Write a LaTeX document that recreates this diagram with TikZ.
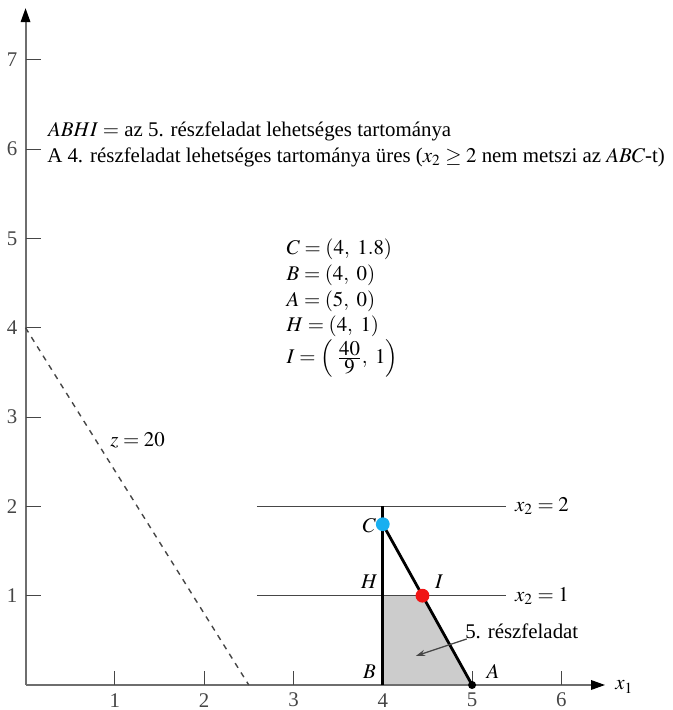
\documentclass[tikz,border=0pt]{standalone}
\usepackage{mathptmx}
\usepackage{fontspec}
\setmainfont{Liberation Serif}
\usetikzlibrary{arrows.meta}
\definecolor{tengelyszin}{RGB}{110,110,110}
\definecolor{vonalszin}{RGB}{70,70,70}
\definecolor{ckek}{RGB}{25,175,240}
\definecolor{ipiros}{RGB}{240,20,20}
\begin{document}
\begin{tikzpicture}[x=2cm,y=2cm,font=\fontsize{13.3}{16}\selectfont,
    tengely/.style={draw=tengelyszin, line width=1.3pt,
      -{Triangle[length=9pt,width=6pt,color=black]}},
    osztas/.style={draw=vonalszin, line width=0.7pt},
    vonal/.style={draw=vonalszin, line width=0.9pt},
    vastag/.style={draw=black, line width=1.8pt},
    pont/.style={circle, inner sep=0pt, minimum size=0.31cm},
    cimke/.style={anchor=base, inner sep=0pt},
    szoveg/.style={anchor=base west, inner sep=0pt}]
    \useasboundingbox (-0.286,-0.28) rectangle (7.24,7.67);

    % Pontok
    \coordinate (O) at (0,0);
    \coordinate (B) at (4,0);
    \coordinate (A) at (5,0);
    \coordinate (H) at (4,1);
    \coordinate (I) at (40/9,1);
    \coordinate (C) at (4,1.8);
    \coordinate (D) at (4,2);

    % Az 5. részfeladat tartománya (szürke)
    \fill[gray!40] (B) -- (H) -- (I) -- (A) -- cycle;

    % Tengelyek
    \coordinate (xveg) at (6.49,0);
    \coordinate (yveg) at (0,7.58);
    \draw[tengely] (O) -- (xveg);
    \draw[tengely] (O) -- (yveg);
    \node[szoveg] (x1) at (6.60,-0.056) {$x_1$};

    \foreach \i in {1,...,7} {
        \draw[osztas] (0,\i) -- ++(0.17,0);
        \node (ylab\i) at (-0.15,\i) {\textcolor{vonalszin}{\i}};
    }
    \foreach \i in {1,...,6} {
        \draw[osztas] (\i,0) -- ++(0,0.16);
        \node (xlab\i) at (\i,-0.17) {\textcolor{vonalszin}{\i}};
    }

    % z = 20 (szaggatott)
    \coordinate (z1) at (0,4);
    \coordinate (z2) at (2.5,0);
    \draw[vonalszin, line width=0.9pt, dash pattern=on 3.5pt off 3.5pt] (z1) -- (z2);
    \node[szoveg] (zlab) at (0.946,2.665) {$z = 20$};

    % x_2 = 2 és x_2 = 1
    \coordinate (k2a) at (2.59,2);
    \coordinate (k2b) at (5.38,2);
    \coordinate (k1a) at (2.59,1);
    \coordinate (k1b) at (5.38,1);
    \draw[vonal] (k2a) -- (k2b) node[right, xshift=2pt] (x2ket) {$x_2 = 2$};
    \draw[vonal] (k1a) -- (k1b) node[right, xshift=2pt] (x2egy) {$x_2 = 1$};

    % Vastag vonalak
    \draw[vastag] (B) -- (D);
    \draw[vastag] (C) -- (A);

    % Pöttyök
    \node[pont, fill=ckek] (Cp) at (C) {};
    \node[pont, fill=ipiros] (Ip) at (I) {};
    \node[pont, fill=black, minimum size=0.18cm] (Ap) at (A) {};

    % Betűk
    \node[cimke] (Cl) at (3.85,1.71) {$C$};
    \node[cimke] (Hl) at (3.85,1.075) {$H$};
    \node[cimke] (Il) at (4.63,1.075) {$I$};
    \node[cimke] (Bl) at (3.85,0.078) {$B$};
    \node[cimke] (Al) at (5.235,0.078) {$A$};

    % 5. részfeladat nyíllal
    \node[szoveg] (resz5) at (4.92,0.526) {5. részfeladat};
    \coordinate (nyilkezd) at (4.94,0.515);
    \coordinate (nyilveg) at (4.37,0.325);
    \draw[vonalszin, line width=0.8pt, -{Stealth[length=6pt,width=4pt]}] (nyilkezd) -- (nyilveg);

    % Felső szöveg
    \node[szoveg] (sor1) at (0.25,6.14) {$ABHI =$ az 5. részfeladat lehetséges tartománya};
    \node[szoveg] (sor2) at (0.24,5.85) {A 4. részfeladat lehetséges tartománya üres ($x_2 \geq 2$ nem metszi az $ABC$-t)};

    % Koordináták
    \node[szoveg] (Cegy) at (2.92,4.825) {$C = (4,\ 1.8)$};
    \node[szoveg] (Begy) at (2.92,4.525) {$B = (4,\ 0)$};
    \node[szoveg] (Aegy) at (2.92,4.24) {$A = (5,\ 0)$};
    \node[szoveg] (Hegy) at (2.92,3.96) {$H = (4,\ 1)$};
    \node[szoveg] (Iegy) at (2.92,3.60) {$I = \Bigl(\;\frac{\textstyle 40}{\textstyle 9},\ 1\Bigr)$};
\end{tikzpicture}
\end{document}
